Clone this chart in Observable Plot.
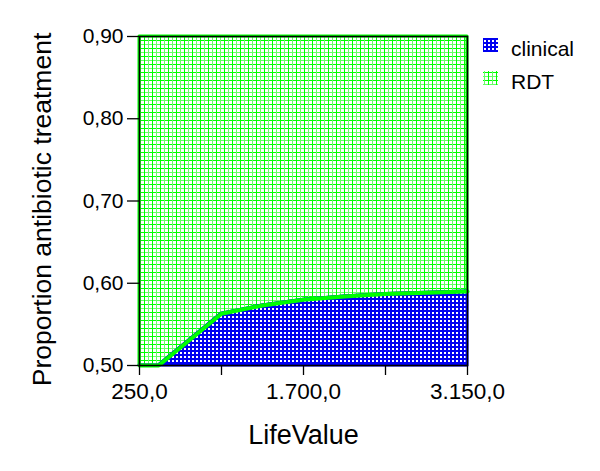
<!DOCTYPE html>
<html>
<head>
<meta charset="utf-8">
<script src="https://cdn.jsdelivr.net/npm/d3@7"></script>
<script src="https://cdn.jsdelivr.net/npm/@observablehq/plot@0.6"></script>
<style>
  html, body { margin: 0; padding: 0; background: #fff; }
  #chart { width: 600px; height: 471px; }
</style>
</head>
<body>
<div id="chart"></div>
<script>
// ---- data ----
const lifeValue = [250, 420, 975, 1338, 1700, 2063, 2425, 3150];
const threshold = [0.500, 0.500, 0.563, 0.573, 0.580, 0.584, 0.587, 0.590];
const xTicks = [250, 975, 1700, 2425, 3150];
const xLabelled = [250, 1700, 3150];
const yTicks = [0.5, 0.6, 0.7, 0.8, 0.9];
const legendLabels = ["clinical", "RDT"];
const xTitle = "LifeValue";
const yTitle = "Proportion antibiotic treatment";

const rows = lifeValue.map((x, i) => ({x, y: threshold[i]}));

const loc = d3.formatLocale({decimal: ",", thousands: ".", grouping: [3], currency: ["", ""]});
const fx = loc.format(",.1f");
const fy = loc.format(".2f");

const font = "'Liberation Sans', Arial, sans-serif";

const plot = Plot.plot({
  width: 600,
  height: 471,
  marginLeft: 139,
  marginRight: 133,
  marginTop: 36,
  marginBottom: 106,
  style: {fontFamily: font, fontSize: "21px", color: "black", background: "white", overflow: "visible"},
  x: {domain: [250, 3150]},
  y: {domain: [0.5, 0.9]},
  marks: [
    Plot.areaY(rows, {x: "x", y1: "y", y2: 0.9, fill: "url(#patRDT)", stroke: "#00ff00", strokeWidth: 3}),
    Plot.areaY(rows, {x: "x", y1: 0.5, y2: "y", fill: "url(#patClin)", stroke: "#0000ff", strokeWidth: 3}),
    Plot.line(rows, {x: "x", y: "y", stroke: "#00ff00", strokeWidth: 4}),
    Plot.frame({stroke: "black", strokeWidth: 1.6}),
    Plot.axisX({ticks: xTicks, tickSize: 10, tickPadding: 8, label: null, fontSize: 22.5,
      tickFormat: d => xLabelled.includes(d) ? fx(d) : "", stroke: "black", strokeWidth: 1.3}),
    Plot.axisY({ticks: yTicks, tickSize: 12, tickPadding: 4, label: null, fontSize: 21,
      tickFormat: fy, stroke: "black", strokeWidth: 1.3}),
    Plot.text([xTitle], {frameAnchor: "bottom", lineAnchor: "middle", textAnchor: "middle", dy: 69.5, fontSize: 27, fill: "black"}),
    Plot.text([yTitle], {frameAnchor: "left", lineAnchor: "middle", textAnchor: "middle", dx: -96.5, dy: 8.5, rotate: -90, fontSize: 26.5, fill: "black"})
  ]
});

const svg = d3.select(plot);
const defs = svg.insert("defs", ":first-child");

// green grid pattern
const pg = defs.append("pattern").attr("id", "patRDT").attr("patternUnits", "userSpaceOnUse")
  .attr("width", 8).attr("height", 8);
pg.append("rect").attr("width", 8).attr("height", 8).attr("fill", "white");
pg.append("rect").attr("x", 0).attr("y", 0).attr("width", 8).attr("height", 1).attr("fill", "#00ff00");
pg.append("rect").attr("x", 0).attr("y", 4).attr("width", 8).attr("height", 1).attr("fill", "#66ff66");
pg.append("rect").attr("x", 0).attr("y", 0).attr("width", 1).attr("height", 8).attr("fill", "#00ff00");
pg.append("rect").attr("x", 4).attr("y", 0).attr("width", 1).attr("height", 8).attr("fill", "#66ff66");

// blue checker pattern
const pb = defs.append("pattern").attr("id", "patClin").attr("patternUnits", "userSpaceOnUse")
  .attr("width", 4).attr("height", 4);
pb.append("rect").attr("width", 4).attr("height", 4).attr("fill", "#0000f0");
pb.append("rect").attr("x", 0).attr("y", 0).attr("width", 2).attr("height", 2).attr("fill", "white");

// legend
const legFills = ["url(#patClin)", "url(#patRDT)"];
const lg = svg.append("g").attr("font-family", font).attr("font-size", 21).attr("text-anchor", "start");
legendLabels.forEach((lab, i) => {
  const y0 = 38 + i * 33;
  lg.append("rect").attr("x", 483).attr("y", y0).attr("width", 15).attr("height", 14)
    .attr("fill", legFills[i]);
  lg.append("text").attr("x", 511).attr("y", y0 + 18).attr("fill", "black").text(lab);
});

document.getElementById("chart").appendChild(plot);
</script>
</body>
</html>
